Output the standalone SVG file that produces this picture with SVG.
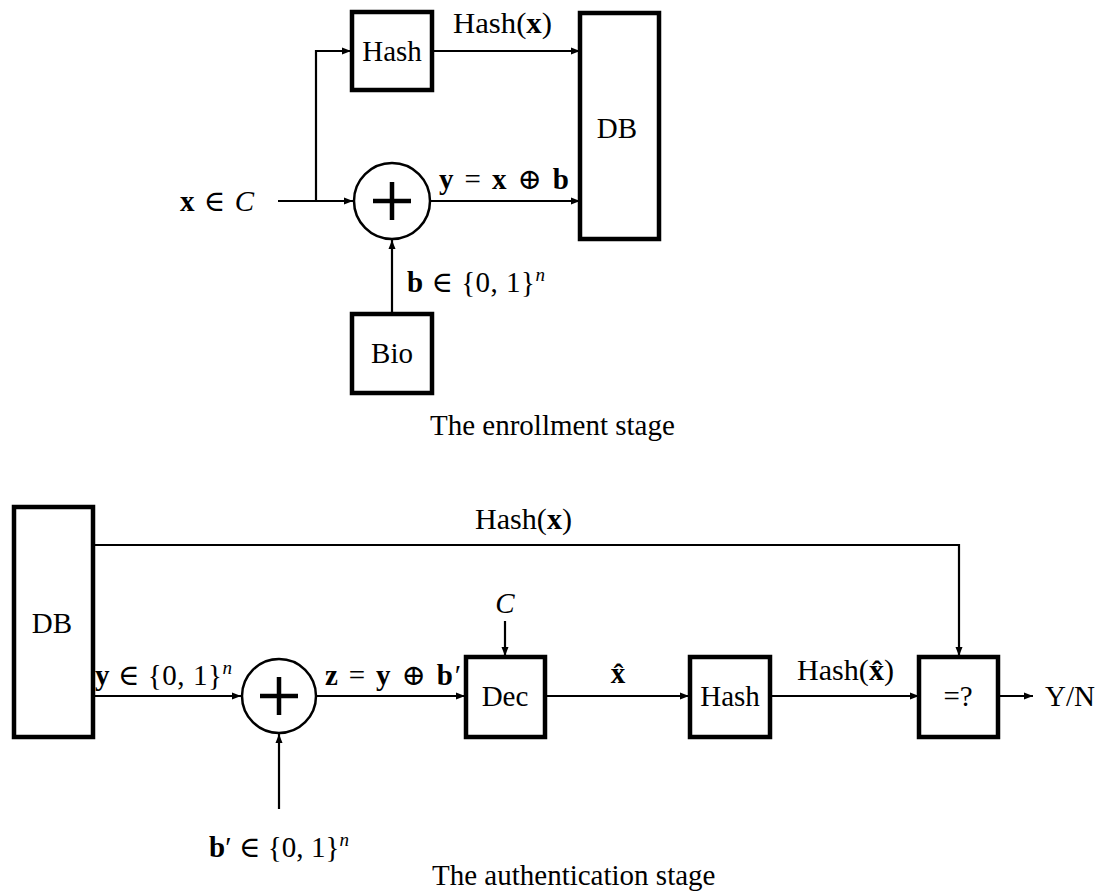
<svg xmlns="http://www.w3.org/2000/svg" width="1106" height="895" viewBox="0 0 1106 895">
<style>
text{font-family:"Liberation Serif","DejaVu Serif",serif;font-size:29px;fill:#000}
.c{text-anchor:middle}
.b{font-weight:bold}
.i{font-style:italic}
.box{fill:#fff;stroke:#000;stroke-width:4.5}
.circ{fill:#fff;stroke:#000;stroke-width:2.5}
.plus{stroke:#000;stroke-width:4.5;fill:none}
.ln{stroke:#000;stroke-width:2.2;fill:none}
.sup{font-size:19px;font-style:italic}
</style>
<defs>
<marker id="ah" markerUnits="userSpaceOnUse" markerWidth="10" markerHeight="8" refX="9" refY="4" orient="auto">
<path d="M0,0.5 L9,4 L0,7.5 Z" fill="#000"/>
</marker>
</defs>

<g id="connectors">
<path class="ln" d="M278,201 H353" marker-end="url(#ah)"/>
<path class="ln" d="M316,201 V51 H351" marker-end="url(#ah)"/>
<path class="ln" d="M433,51 H580" marker-end="url(#ah)"/>
<path class="ln" d="M431,201 H580" marker-end="url(#ah)"/>
<path class="ln" d="M392,312 V240" marker-end="url(#ah)"/>
<path class="ln" d="M93,545 H959 V656" marker-end="url(#ah)"/>
<path class="ln" d="M93,696 H241" marker-end="url(#ah)"/>
<path class="ln" d="M317,696 H465" marker-end="url(#ah)"/>
<path class="ln" d="M279,809 V734" marker-end="url(#ah)"/>
<path class="ln" d="M505,621 V656" marker-end="url(#ah)"/>
<path class="ln" d="M545,696 H689" marker-end="url(#ah)"/>
<path class="ln" d="M770,696 H919" marker-end="url(#ah)"/>
<path class="ln" d="M998,696 H1033" marker-end="url(#ah)"/>
</g>

<g id="enroll-hash">
<rect class="box" x="352" y="12" width="80" height="78"/>
<text class="c" x="392" y="61">Hash</text>
</g>
<g id="enroll-db">
<rect class="box" x="580" y="13" width="79" height="226"/>
<text class="c" x="617" y="138">DB</text>
</g>
<g id="enroll-xor">
<circle class="circ" cx="392" cy="201" r="38"/>
<path class="plus" d="M373,201 H411 M392,182 V220"/>
</g>
<g id="enroll-bio">
<rect class="box" x="352" y="314" width="80" height="79"/>
<text class="c" x="392" y="363">Bio</text>
</g>
<g id="enroll-labels">
<text x="453" y="33" textLength="99" lengthAdjust="spacingAndGlyphs">Hash(<tspan class="b">x</tspan>)</text>
<text x="180" y="211" textLength="74" lengthAdjust="spacing"><tspan class="b">x</tspan> ∈ <tspan class="i">C</tspan></text>
<text x="439" y="189" textLength="130" lengthAdjust="spacing"><tspan class="b">y</tspan> = <tspan class="b">x</tspan> ⊕ <tspan class="b">b</tspan></text>
<text x="407" y="292" textLength="138" lengthAdjust="spacing"><tspan class="b">b</tspan> ∈ {0, 1}<tspan class="sup" dy="-11">n</tspan></text>
<text x="430" y="435">The enrollment stage</text>
</g>

<g id="auth-db">
<rect class="box" x="14" y="507" width="79" height="230"/>
<text class="c" x="52" y="633">DB</text>
</g>
<g id="auth-xor">
<circle class="circ" cx="279" cy="696" r="37"/>
<path class="plus" d="M260,696 H298 M279,677 V715"/>
</g>
<g id="auth-dec">
<rect class="box" x="466" y="657" width="79" height="80"/>
<text class="c" x="505" y="706">Dec</text>
</g>
<g id="auth-hash">
<rect class="box" x="690" y="657" width="80" height="80"/>
<text class="c" x="730" y="706">Hash</text>
</g>
<g id="auth-eq">
<rect class="box" x="919" y="657" width="79" height="80"/>
<text class="c" x="958" y="706">=?</text>
</g>
<g id="auth-labels">
<text x="475" y="529" textLength="97" lengthAdjust="spacingAndGlyphs">Hash(<tspan class="b">x</tspan>)</text>
<text x="95" y="685" textLength="137" lengthAdjust="spacing"><tspan class="b">y</tspan> ∈ {0, 1}<tspan class="sup" dy="-11">n</tspan></text>
<text x="325" y="685" textLength="136" lengthAdjust="spacing"><tspan class="b">z</tspan> = <tspan class="b">y</tspan> ⊕ <tspan class="b">b</tspan>′</text>
<text class="c i" x="505" y="613">C</text>
<text class="c b" x="618" y="683">x̂</text>
<text x="797" y="680" textLength="97" lengthAdjust="spacingAndGlyphs">Hash(<tspan class="b">x̂</tspan>)</text>
<text x="1045" y="706">Y/N</text>
<text x="209" y="857" textLength="140" lengthAdjust="spacing"><tspan class="b">b</tspan>′ ∈ {0, 1}<tspan class="sup" dy="-11">n</tspan></text>
<text x="432" y="885">The authentication stage</text>
</g>
</svg>
